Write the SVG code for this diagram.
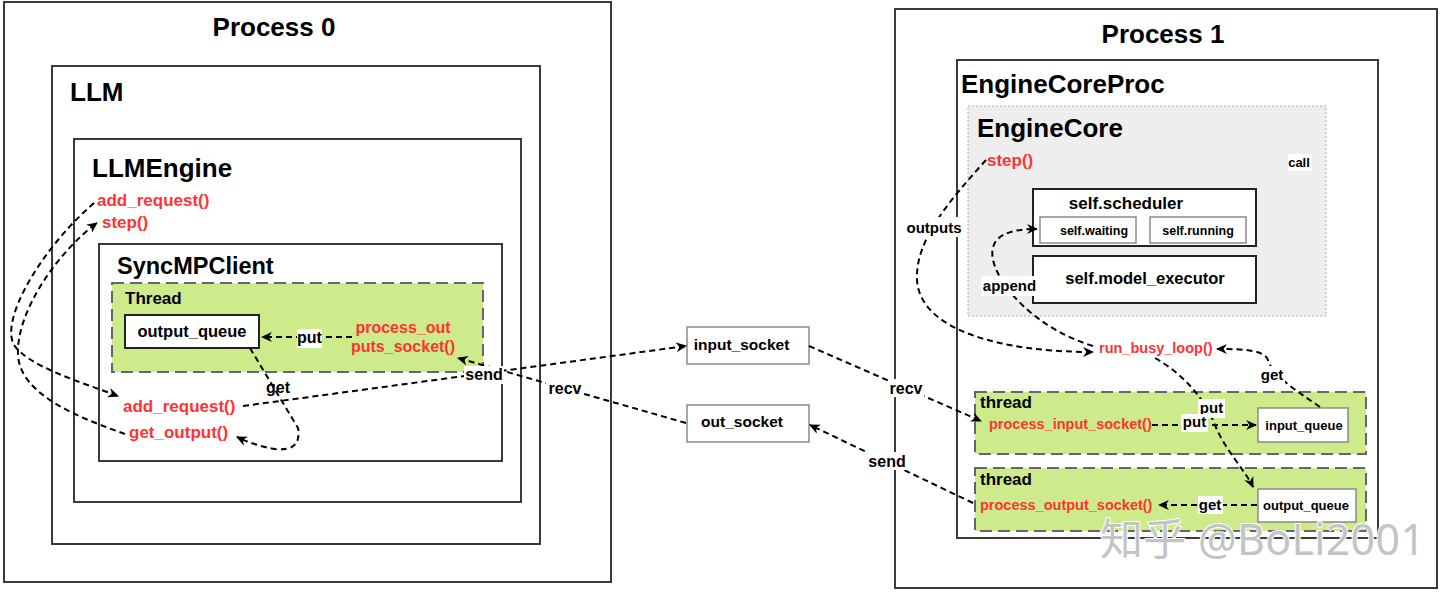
<svg xmlns="http://www.w3.org/2000/svg" width="1440" height="593" viewBox="0 0 1440 593">
<style>
text{font-family:"Liberation Sans",Arial,sans-serif;font-weight:bold;fill:#000}
.box{fill:none;stroke:#3a3a3a;stroke-width:2}
.wbox{fill:#fff;stroke:#222;stroke-width:2}
.gbox{fill:#fff;stroke:#8a8a8a;stroke-width:1.5}
.thr{fill:#cdeb8b;stroke:#666;stroke-width:2;stroke-dasharray:12 6}
.core{fill:#eeeeee;stroke:#aaa;stroke-width:1;stroke-dasharray:2 2}
.red{fill:#ff3333}
.t26{font-size:26px}
.lbl{font-size:16px}
.bg{fill:#fff}
.c{fill:none;stroke:#000;stroke-width:2;stroke-dasharray:6 4;marker-end:url(#arr)}
.cn{fill:none;stroke:#000;stroke-width:2;stroke-dasharray:6 4}
.mid{text-anchor:middle}
</style>
<defs>
<marker id="arr" viewBox="0 0 10 10" refX="9" refY="5" markerWidth="11" markerHeight="11" markerUnits="userSpaceOnUse" orient="auto">
<path d="M0,0.5 L10,5 L0,9.5 L3,5 z" fill="#000"/>
</marker>
</defs>
<rect width="1440" height="593" fill="#fff"/>

<g id="process0">
<rect class="box" x="4" y="2" width="607" height="580"/>
<text class="t26 mid" x="274" y="36">Process 0</text>
</g>
<g id="llm">
<rect class="box" x="52" y="66" width="488" height="478"/>
<text class="t26" x="70" y="101">LLM</text>
</g>
<g id="llmengine">
<rect class="box" x="74" y="139" width="447" height="363"/>
<text class="t26" x="92" y="177">LLMEngine</text>
<text class="red" x="97" y="206" font-size="17">add_request()</text>
<text class="red" x="102" y="228" font-size="17">step()</text>
</g>
<g id="syncmpclient">
<rect class="box" x="99" y="244" width="403" height="217"/>
<text x="117" y="274" font-size="23.5">SyncMPClient</text>
<text class="red" x="123" y="412" font-size="17">add_request()</text>
<text class="red" x="129" y="438" font-size="17">get_output()</text>
</g>
<g id="thread0">
<rect class="thr" x="112" y="283" width="371" height="89"/>
<text x="125" y="304" font-size="17">Thread</text>
<text class="red mid" x="403" y="333" font-size="16">process_out</text>
<text class="red mid" x="403" y="352" font-size="16">puts_socket()</text>
</g>
<g id="output_queue0">
<rect class="wbox" x="125" y="315" width="134" height="33"/>
<text class="mid" x="192" y="337" font-size="16.5">output_queue</text>
</g>

<g id="input_socket">
<rect class="gbox" x="687" y="327" width="122" height="37"/>
<text class="mid" x="741.5" y="350" font-size="15.5">input_socket</text>
</g>
<g id="out_socket">
<rect class="gbox" x="687" y="405" width="122" height="37"/>
<text class="mid" x="742" y="427" font-size="15.5">out_socket</text>
</g>

<g id="process1">
<rect class="box" x="895" y="9" width="542" height="579"/>
<text class="t26 mid" x="1163" y="43">Process 1</text>
</g>
<g id="enginecoreproc">
<rect class="box" x="957" y="60" width="421" height="478"/>
<text class="t26" x="961" y="93">EngineCoreProc</text>
<text class="red" x="1099" y="353" font-size="14.5">run_busy_loop()</text>
</g>
<g id="enginecore">
<rect class="core" x="968" y="106" width="358" height="210"/>
<text class="t26" x="977" y="137">EngineCore</text>
<text class="red" x="987" y="166" font-size="17">step()</text>
</g>
<g id="scheduler">
<rect class="wbox" x="1033" y="189" width="223" height="57"/>
<text class="mid" x="1126" y="209" font-size="17">self.scheduler</text>
</g>
<g id="waiting">
<rect class="gbox" x="1040" y="217" width="96" height="26"/>
<text class="mid" x="1094" y="235" font-size="12.5">self.waiting</text>
</g>
<g id="running">
<rect class="gbox" x="1150" y="217" width="96" height="26"/>
<text class="mid" x="1198" y="235" font-size="12.5">self.running</text>
</g>
<g id="model_executor">
<rect class="wbox" x="1033" y="256" width="223" height="47"/>
<text class="mid" x="1145" y="284" font-size="16.5">self.model_executor</text>
</g>
<g id="thread1">
<rect class="thr" x="975" y="392" width="391" height="62"/>
<text x="980" y="408" font-size="17">thread</text>
<text class="red" x="989" y="429" font-size="14.5">process_input_socket()</text>
</g>
<g id="input_queue">
<rect class="gbox" x="1258" y="408" width="90" height="34" stroke="#555"/>
<text class="mid" x="1304" y="430" font-size="13">input_queue</text>
</g>
<g id="thread2">
<rect class="thr" x="975" y="468" width="391" height="63"/>
<text x="980" y="485" font-size="17">thread</text>
<text class="red" x="980" y="510" font-size="14.5">process_output_socket()</text>
</g>
<g id="output_queue1">
<rect class="gbox" x="1258" y="489" width="98" height="33" stroke="#555"/>
<text class="mid" x="1306" y="510" font-size="13">output_queue</text>
</g>

<g id="connectors">
<path class="c" d="M94,203 C40,250 0,320 14,345 C28,366 80,382 118,396"/>
<path class="c" d="M125,434 C80,418 20,395 18,355 C16,310 60,250 97,223"/>
<path class="c" d="M250,348 L298,428 Q302,452 275,449 Q256,446 237,437"/>
<path class="c" d="M352,337 L262,337"/>
<path class="c" d="M243,406 L686,346"/>
<path class="c" d="M686,423 L458,358"/>
<path class="c" d="M809,346 L981,421"/>
<path class="c" d="M973,503 L810,425"/>
<path class="c" d="M986,160 C950,200 915,240 917,280 C920,330 1000,352 1093,352"/>
<path class="c" d="M1093,346 C1040,330 1000,290 993,260 C988,235 1010,229 1037,229"/>
<path class="c" d="M1320,407 C1295,390 1272,375 1268,360 C1264,350 1245,349 1217,349"/>
<path class="c" d="M1155,358 C1185,375 1205,400 1215,425 S1245,470 1253,487"/>
<path class="c" d="M1152,425 L1256,425"/>
<path class="c" d="M1257,505 L1159,505"/>

<g id="labels">
<rect class="bg" x="297" y="329" width="25" height="19"/>
<text class="lbl mid" x="309.5" y="343">put</text>
<text class="lbl mid" x="278" y="393">get</text>
<rect class="bg" x="464" y="366" width="40" height="18"/>
<text class="lbl mid" x="484" y="380">send</text>
<rect class="bg" x="546" y="379" width="37" height="18"/>
<text class="lbl mid" x="565" y="394">recv</text>
<rect class="bg" x="888" y="379" width="36" height="18"/>
<text class="lbl mid" x="906" y="394">recv</text>
<rect class="bg" x="867" y="452" width="40" height="18"/>
<text class="lbl mid" x="887" y="467">send</text>
<rect class="bg" x="905" y="217" width="58" height="20"/>
<text class="mid" x="934" y="233" font-size="15">outputs</text>
<rect class="bg" x="981" y="276" width="57" height="20"/>
<text class="mid" x="1009.5" y="291" font-size="15">append</text>
<rect class="bg" x="1288" y="154" width="24" height="17"/>
<text class="mid" x="1299" y="167" font-size="13">call</text>
<rect class="bg" x="1259" y="366" width="26" height="18"/>
<text class="mid" x="1272" y="380" font-size="15">get</text>
<rect class="bg" x="1198" y="399" width="27" height="19"/>
<text class="mid" x="1211.5" y="413" font-size="15">put</text>
<rect class="bg" x="1181" y="414" width="27" height="18"/>
<text class="mid" x="1194.5" y="427" font-size="15">put</text>
<rect class="bg" x="1198" y="496" width="25" height="18"/>
<text class="mid" x="1210" y="510" font-size="15">get</text>
</g>
</g>

<g id="watermark">
<text x="1100" y="555" font-size="43" textLength="325" style="font-family:'Noto Sans','Noto Sans CJK SC',sans-serif;font-weight:normal;fill:#c4c4c4;stroke:#fff;stroke-width:2;paint-order:stroke">知乎 @BoLi2001</text>
</g>
</svg>
